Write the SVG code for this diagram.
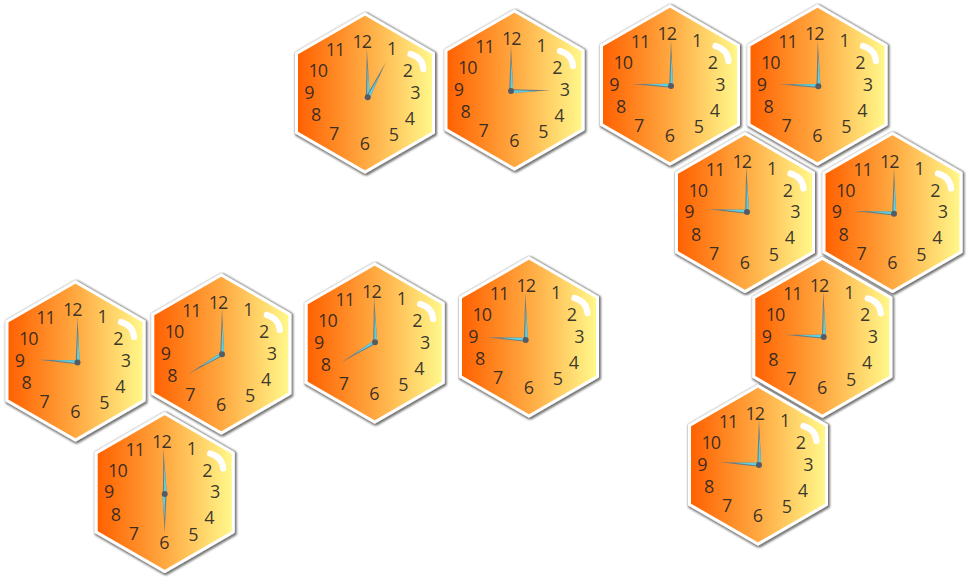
<svg xmlns="http://www.w3.org/2000/svg" width="967" height="578" viewBox="0 0 967 578">
<style>
text{font-family:"Open Sans","Noto Sans",sans-serif;font-size:18px;letter-spacing:-1px;text-anchor:middle;fill:#222;fill-opacity:.88}
.hub{fill:#565c64}
</style>
<defs>
<linearGradient id="g" x1="0" x2="1" y1="0" y2="0"><stop offset="0" stop-color="#ff6000"/><stop offset=".5" stop-color="#ffa840"/><stop offset="1" stop-color="#fff98c"/></linearGradient>
<filter id="s" x="-10%" y="-10%" width="120%" height="120%"><feMorphology in="SourceAlpha" operator="dilate" radius=".6"/><feGaussianBlur stdDeviation="1"/><feOffset dx=".6" dy=".6"/><feComponentTransfer><feFuncA type="linear" slope=".55"/></feComponentTransfer><feMerge><feMergeNode/><feMergeNode in="SourceGraphic"/></feMerge></filter>
<g id="face">
<path d="M0,-79L68.500,-39.5V39.5L0,79L-68.500,39.5V-39.5Z" fill="url(#g)" stroke="#fff" stroke-width="3" stroke-linejoin="round" filter="url(#s)"/>
<path d="M45.500,-39Q57.500,-35.500 58.500,-24" fill="none" stroke="#fff" stroke-width="6.200" stroke-linecap="round"/>
</g>
<g id="min"><polygon points="-1.8,0 2.2,0 0,-46" fill="#6e7c80"/><polygon points="-.7,0 2.2,0 .4,-30" fill="#5cd0de"/></g>
<g id="hr"><polygon points="-1.8,0 2.2,0 0,-39.5" fill="#6e7c80"/><polygon points="-.7,0 2.2,0 .4,-25" fill="#5cd0de"/></g>
</defs>
<g id="clock-1"><g transform="translate(365,93)"><use href="#face"/><text x="-3.3" y="-45">12</text><text x="26.7" y="-38">1</text><text x="42.3" y="-16">2</text><text x="50" y="5.5">3</text><text x="44.3" y="31.5">4</text><text x="28.3" y="48.3">5</text><text x="-.7" y="56.5">6</text><text x="-31.3" y="47.300">7</text><text x="-49.3" y="28.3">8</text><text x="-56" y="5.5">9</text><text x="-47.3" y="-16">10</text><text x="-30" y="-37">11</text></g><use href="#min" transform="translate(367.7,97.3) rotate(-1) scale(1,1.06)"/><use href="#hr" transform="translate(367.7,97.3) rotate(27.2)"/><circle class="hub" cx="367.7" cy="97.3" r="3"/></g>
<g id="clock-2"><g transform="translate(514.5,90)"><use href="#face"/><text x="-3.3" y="-45">12</text><text x="26.7" y="-38">1</text><text x="42.3" y="-16">2</text><text x="50" y="5.5">3</text><text x="44.3" y="31.5">4</text><text x="28.3" y="48.3">5</text><text x="-.7" y="56.5">6</text><text x="-31.3" y="47.300">7</text><text x="-49.3" y="28.3">8</text><text x="-56" y="5.5">9</text><text x="-47.3" y="-16">10</text><text x="-30" y="-37">11</text></g><use href="#min" transform="translate(511,91)"/><use href="#hr" transform="translate(511,91) rotate(89)"/><circle class="hub" cx="511" cy="91" r="3"/></g>
<g id="clock-3"><g transform="translate(670,85)"><use href="#face"/><text x="-3.3" y="-45">12</text><text x="26.7" y="-38">1</text><text x="42.3" y="-16">2</text><text x="50" y="5.5">3</text><text x="44.3" y="31.5">4</text><text x="28.3" y="48.3">5</text><text x="-.7" y="56.5">6</text><text x="-31.3" y="47.300">7</text><text x="-49.3" y="28.3">8</text><text x="-56" y="5.5">9</text><text x="-47.3" y="-16">10</text><text x="-30" y="-37">11</text></g><use href="#min" transform="translate(671,86)"/><use href="#hr" transform="translate(671,86) rotate(-87)"/><circle class="hub" cx="671" cy="86" r="3"/></g>
<g id="clock-4"><g transform="translate(817.5,85)"><use href="#face"/><text x="-3.3" y="-45">12</text><text x="26.7" y="-38">1</text><text x="42.3" y="-16">2</text><text x="50" y="5.5">3</text><text x="44.3" y="31.5">4</text><text x="28.3" y="48.3">5</text><text x="-.7" y="56.5">6</text><text x="-31.3" y="47.300">7</text><text x="-49.3" y="28.3">8</text><text x="-56" y="5.5">9</text><text x="-47.3" y="-16">10</text><text x="-30" y="-37">11</text></g><use href="#min" transform="translate(818.3,86.3) rotate(-.7)"/><use href="#hr" transform="translate(818.3,86.3) rotate(-87)"/><circle class="hub" cx="818.3" cy="86.3" r="3"/></g>
<g id="clock-5"><g transform="translate(745,212.5)"><use href="#face"/><text x="-3.3" y="-45">12</text><text x="26.7" y="-38">1</text><text x="42.3" y="-16">2</text><text x="50" y="5.5">3</text><text x="44.3" y="31.5">4</text><text x="28.3" y="48.3">5</text><text x="-.7" y="56.5">6</text><text x="-31.3" y="47.300">7</text><text x="-49.3" y="28.3">8</text><text x="-56" y="5.5">9</text><text x="-47.3" y="-16">10</text><text x="-30" y="-37">11</text></g><use href="#min" transform="translate(747,212) rotate(-1)"/><use href="#hr" transform="translate(747,212) rotate(-86)"/><circle class="hub" cx="747" cy="212" r="3"/></g>
<g id="clock-6"><g transform="translate(892.5,212.5)"><use href="#face"/><text x="-3.3" y="-45">12</text><text x="26.7" y="-38">1</text><text x="42.3" y="-16">2</text><text x="50" y="5.5">3</text><text x="44.3" y="31.5">4</text><text x="28.3" y="48.3">5</text><text x="-.7" y="56.5">6</text><text x="-31.3" y="47.300">7</text><text x="-49.3" y="28.3">8</text><text x="-56" y="5.5">9</text><text x="-47.3" y="-16">10</text><text x="-30" y="-37">11</text></g><use href="#min" transform="translate(894,213.7)"/><use href="#hr" transform="translate(894,213.7) rotate(-86)"/><circle class="hub" cx="894" cy="213.7" r="3"/></g>
<g id="clock-7"><g transform="translate(822.3,337.3)"><use href="#face"/><text x="-3.3" y="-45">12</text><text x="26.7" y="-38">1</text><text x="42.3" y="-16">2</text><text x="50" y="5.5">3</text><text x="44.3" y="31.5">4</text><text x="28.3" y="48.3">5</text><text x="-.7" y="56.5">6</text><text x="-31.3" y="47.300">7</text><text x="-49.3" y="28.3">8</text><text x="-56" y="5.5">9</text><text x="-47.3" y="-16">10</text><text x="-30" y="-37">11</text></g><use href="#min" transform="translate(823.7,337) rotate(-.5)"/><use href="#hr" transform="translate(823.7,337) rotate(-86.7)"/><circle class="hub" cx="823.7" cy="337" r="3"/></g>
<g id="clock-8"><g transform="translate(758,465)"><use href="#face"/><text x="-3.3" y="-45">12</text><text x="26.7" y="-38">1</text><text x="42.3" y="-16">2</text><text x="50" y="5.5">3</text><text x="44.3" y="31.5">4</text><text x="28.3" y="48.3">5</text><text x="-.7" y="56.5">6</text><text x="-31.3" y="47.300">7</text><text x="-49.3" y="28.3">8</text><text x="-56" y="5.5">9</text><text x="-47.3" y="-16">10</text><text x="-30" y="-37">11</text></g><use href="#min" transform="translate(759,465)"/><use href="#hr" transform="translate(759,465) rotate(-86)"/><circle class="hub" cx="759" cy="465" r="3"/></g>
<g id="clock-9"><g transform="translate(75.5,361)"><use href="#face"/><text x="-3.3" y="-45">12</text><text x="26.7" y="-38">1</text><text x="42.3" y="-16">2</text><text x="50" y="5.5">3</text><text x="44.3" y="31.5">4</text><text x="28.3" y="48.3">5</text><text x="-.7" y="56.5">6</text><text x="-31.3" y="47.300">7</text><text x="-49.3" y="28.3">8</text><text x="-56" y="5.5">9</text><text x="-47.3" y="-16">10</text><text x="-30" y="-37">11</text></g><use href="#min" transform="translate(77.5,362.5)"/><use href="#hr" transform="translate(77.5,362.5) rotate(-86)"/><circle class="hub" cx="77.5" cy="362.5" r="3"/></g>
<g id="clock-10"><g transform="translate(221.3,354)"><use href="#face"/><text x="-3.3" y="-45">12</text><text x="26.7" y="-38">1</text><text x="42.3" y="-16">2</text><text x="50" y="5.5">3</text><text x="44.3" y="31.5">4</text><text x="28.3" y="48.3">5</text><text x="-.7" y="56.5">6</text><text x="-31.3" y="47.300">7</text><text x="-49.3" y="28.3">8</text><text x="-56" y="5.5">9</text><text x="-47.3" y="-16">10</text><text x="-30" y="-37">11</text></g><use href="#min" transform="translate(222,354.3)"/><use href="#hr" transform="translate(222,354.3) rotate(-120.5)"/><circle class="hub" cx="222" cy="354.3" r="3"/></g>
<g id="clock-11"><g transform="translate(374.7,343)"><use href="#face"/><text x="-3.3" y="-45">12</text><text x="26.7" y="-38">1</text><text x="42.3" y="-16">2</text><text x="50" y="5.5">3</text><text x="44.3" y="31.5">4</text><text x="28.3" y="48.3">5</text><text x="-.7" y="56.5">6</text><text x="-31.3" y="47.300">7</text><text x="-49.3" y="28.3">8</text><text x="-56" y="5.5">9</text><text x="-47.3" y="-16">10</text><text x="-30" y="-37">11</text></g><use href="#min" transform="translate(375,342.3) rotate(-1.2)"/><use href="#hr" transform="translate(375,342.3) rotate(-120.7)"/><circle class="hub" cx="375" cy="342.3" r="3"/></g>
<g id="clock-12"><g transform="translate(529,337)"><use href="#face"/><text x="-3.3" y="-45">12</text><text x="26.7" y="-38">1</text><text x="42.3" y="-16">2</text><text x="50" y="5.5">3</text><text x="44.3" y="31.5">4</text><text x="28.3" y="48.3">5</text><text x="-.7" y="56.5">6</text><text x="-31.3" y="47.300">7</text><text x="-49.3" y="28.3">8</text><text x="-56" y="5.5">9</text><text x="-47.3" y="-16">10</text><text x="-30" y="-37">11</text></g><use href="#min" transform="translate(525.7,340) rotate(-.5) scale(1,1.04)"/><use href="#hr" transform="translate(525.7,340) rotate(-86)"/><circle class="hub" cx="525.7" cy="340" r="3"/></g>
<g id="clock-13"><g transform="translate(164.7,492.5)"><use href="#face"/><text x="-3.3" y="-45">12</text><text x="26.7" y="-38">1</text><text x="42.3" y="-16">2</text><text x="50" y="5.5">3</text><text x="44.3" y="31.5">4</text><text x="28.3" y="48.3">5</text><text x="-.7" y="56.5">6</text><text x="-31.3" y="47.300">7</text><text x="-49.3" y="28.3">8</text><text x="-56" y="5.5">9</text><text x="-47.3" y="-16">10</text><text x="-30" y="-37">11</text></g><use href="#min" transform="translate(164.7,494) rotate(-1.7)"/><use href="#hr" transform="translate(164.7,494) rotate(180)"/><circle class="hub" cx="164.7" cy="494" r="3"/></g>
</svg>
